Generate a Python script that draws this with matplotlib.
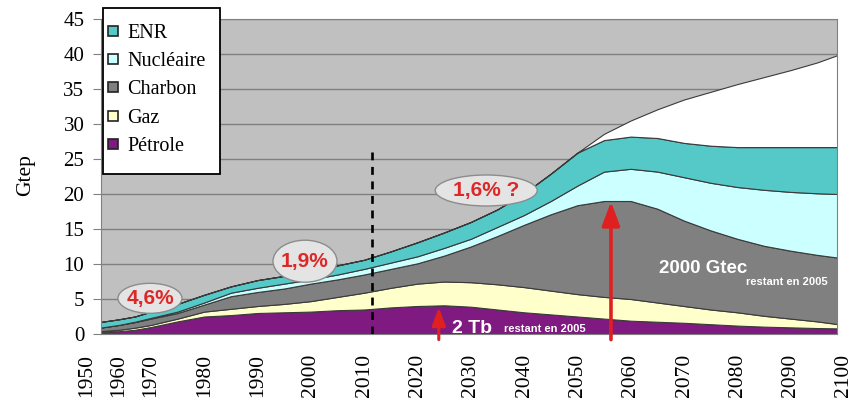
import matplotlib
matplotlib.use('Agg')
import matplotlib.pyplot as plt
import numpy as np
from matplotlib.lines import Line2D
from matplotlib.patches import Ellipse, Rectangle
from matplotlib.transforms import IdentityTransform, blended_transform_factory

# valeurs (Gtep)
years = [1954, 1960, 1965, 1970, 1975, 1980, 1985, 1990, 1995, 2000,
         2005, 2010, 2015, 2020, 2025, 2030, 2035, 2040, 2045, 2050,
         2055, 2060, 2065, 2070, 2075, 2080, 2085, 2090, 2095, 2099]
petrole = [0.3, 0.4, 0.6, 1.0, 1.8, 2.5, 2.7, 3.0, 3.1, 3.2,
           3.4, 3.5, 3.8, 4.0, 4.1, 3.9, 3.5, 3.1, 2.8, 2.5,
           2.2, 1.9, 1.75, 1.6, 1.4, 1.2, 1.05, 0.95, 0.85, 0.8]
gaz = [0.1, 0.2, 0.3, 0.3, 0.4, 0.7, 0.9, 1.0, 1.2, 1.5,
       1.9, 2.4, 2.8, 3.2, 3.4, 3.5, 3.6, 3.6, 3.4, 3.2,
       3.1, 3.1, 2.75, 2.4, 2.1, 1.9, 1.55, 1.25, 0.95, 0.6]
charbon = [0.5, 0.7, 0.8, 0.9, 0.8, 1.0, 1.8, 2.0, 2.2, 2.5,
           2.5, 2.6, 2.7, 2.9, 3.7, 5.1, 6.9, 8.9, 10.9, 12.7,
           13.7, 14.0, 13.4, 12.2, 11.3, 10.5, 10.0, 9.7, 9.5, 9.5]
nucleaire = [0.0, 0.0, 0.05, 0.1, 0.2, 0.3, 0.5, 0.6, 0.7, 0.6,
             0.7, 0.8, 0.9, 1.0, 1.1, 1.1, 1.3, 1.4, 1.9, 2.8,
             4.2, 4.6, 5.3, 6.2, 6.8, 7.4, 8.0, 8.4, 8.8, 9.1]
enr = [0.8, 0.8, 0.75, 0.9, 1.1, 1.1, 0.9, 1.1, 1.1, 1.2,
       1.3, 1.3, 1.6, 2.0, 2.2, 2.4, 2.5, 3.1, 3.9, 4.7,
       4.5, 4.6, 4.8, 4.9, 5.3, 5.7, 6.1, 6.4, 6.6, 6.7]
# demande non couverte (zone blanche)
deficit = [0, 0, 0, 0, 0, 0, 0, 0, 0, 0,
           0, 0, 0, 0, 0, 0, 0, 0, 0, 0,
           0.9, 2.3, 4.1, 6.2, 7.7, 9.0, 10.0, 11.0, 12.1, 13.2]

labels = ['Pétrole', 'Gaz', 'Charbon', 'Nucléaire', 'ENR']
colors = ['#7f1a80', '#ffffcc', '#808080', '#ccffff', '#55c8c8']

tick_years = list(range(1950, 2101, 10))
y_ticks = list(range(0, 46, 5))
aujourdhui = 2011.5

# axe des x non lineaire (1950-1970 resserre comme sur l'original)
knot_years = [1900, 1950, 1970, 2100, 2200]
knot_pos = [-73, 87, 151, 844, 1377]


def fwd(x):
    return np.interp(x, knot_years, knot_pos)


def inv(x):
    return np.interp(x, knot_pos, knot_years)


serif = 'Liberation Serif'
sans = 'Liberation Sans'

fig = plt.figure(figsize=(8.57, 4.03), dpi=100)
ax = fig.add_axes([101 / 857, 69 / 403, 736 / 857, 315 / 403])
ax.set_facecolor('#c0c0c0')
ax.set_xscale('function', functions=(fwd, inv))
ax.set_xlim(1954.4, 2098.7)
ax.set_ylim(0, 45)

ax.stackplot(years, petrole, gaz, charbon, nucleaire, enr, deficit,
             colors=colors + ['white'], edgecolor='#3a3a3a', linewidth=0.8,
             zorder=2)

ax.set_yticks(y_ticks)
ax.set_yticklabels([str(v) for v in y_ticks], family=serif, fontsize=15)
ax.tick_params(axis='y', length=6, color='#808080', pad=6)
ax.set_xticks([])
ax.yaxis.grid(True, color='#808080', lw=1)
ax.set_axisbelow(True)
for sp in ax.spines.values():
    sp.set_color('#808080')

trans = blended_transform_factory(ax.transData, ax.transAxes)
for yr in tick_years:
    ax.text(yr, -20 / 315, str(yr), rotation=90, ha='center', va='top',
            transform=trans, family=serif, fontsize=15.5)

ax.set_ylabel('Gtep', family=serif, fontsize=15.5)
ax.yaxis.set_label_coords(-0.089, 0.505)

# ligne "aujourd'hui"
ax.vlines(aujourdhui, 0, 26, colors='black', linestyles=(0, (3, 2.5)),
          lw=1.9, zorder=4)

# taux de croissance
bulles = [('4,6%', 1969.7, 5.1, 64, 30),
          ('1,9%', 1998.9, 10.4, 64, 42),
          ('1,6% ?', 2032.9, 20.5, 102, 31)]
for txt, yr, val, w, h in bulles:
    cx, cy = ax.transData.transform((yr, val))
    ax.add_patch(Ellipse((cx, cy), w, h, transform=IdentityTransform(),
                         fc='#e4e4e4', ec='#8c8c8c', lw=1, zorder=5))
    ax.text(yr, val, txt, ha='center', va='center', color='#dd2828',
            fontweight='bold', family=sans, fontsize=15, zorder=6)

# fleches
ax.annotate('', xy=(2024.0, 3.8), xytext=(2024.0, -0.8),
            arrowprops=dict(arrowstyle='-|>,head_length=1.2,head_width=0.45',
                            color='#e02020', lw=2.2, mutation_scale=9,
                            shrinkA=0, shrinkB=0),
            annotation_clip=False, zorder=6)
ax.annotate('', xy=(2056.3, 18.9), xytext=(2056.3, -0.8),
            arrowprops=dict(arrowstyle='-|>,head_length=1.2,head_width=0.45',
                            color='#e02020', lw=2.6, mutation_scale=12,
                            shrinkA=0, shrinkB=0),
            annotation_clip=False, zorder=6)

ax.text(2073.6, 9.4, '2000 Gtec', ha='center', va='center', color='white',
        fontweight='bold', family=sans, fontsize=13.5, zorder=6)
ax.text(2097.0, 7.4, 'restant en 2005', ha='right', va='center',
        color='white', fontweight='bold', family=sans, fontsize=8, zorder=6)
ax.text(2026.5, 0.85, '2 Tb', ha='left', va='center', color='white',
        fontweight='bold', family=sans, fontsize=14, zorder=6)
ax.text(2036.2, 0.75, 'restant en 2005', ha='left', va='center',
        color='white', fontweight='bold', family=sans, fontsize=8, zorder=6)

# legende
fig.add_artist(Rectangle((103 / 857, 229 / 403), 117 / 857, 166 / 403,
                         transform=fig.transFigure, fc='white', ec='black',
                         lw=1.3, zorder=4))
handles = [Line2D([], [], marker='s', linestyle='none', markersize=6.5,
                  markerfacecolor=c, markeredgecolor='#222222', mew=1.2)
           for c in colors]
fig.legend(handles[::-1], labels[::-1], loc='upper left',
           bbox_to_anchor=(105 / 857, 1 - 24 / 403), frameon=False,
           prop={'family': serif, 'size': 14.5}, handlelength=0.8,
           handletextpad=0.3, borderpad=0, borderaxespad=0,
           labelspacing=0.45)

fig.savefig('out.png', dpi=100, facecolor='white')
